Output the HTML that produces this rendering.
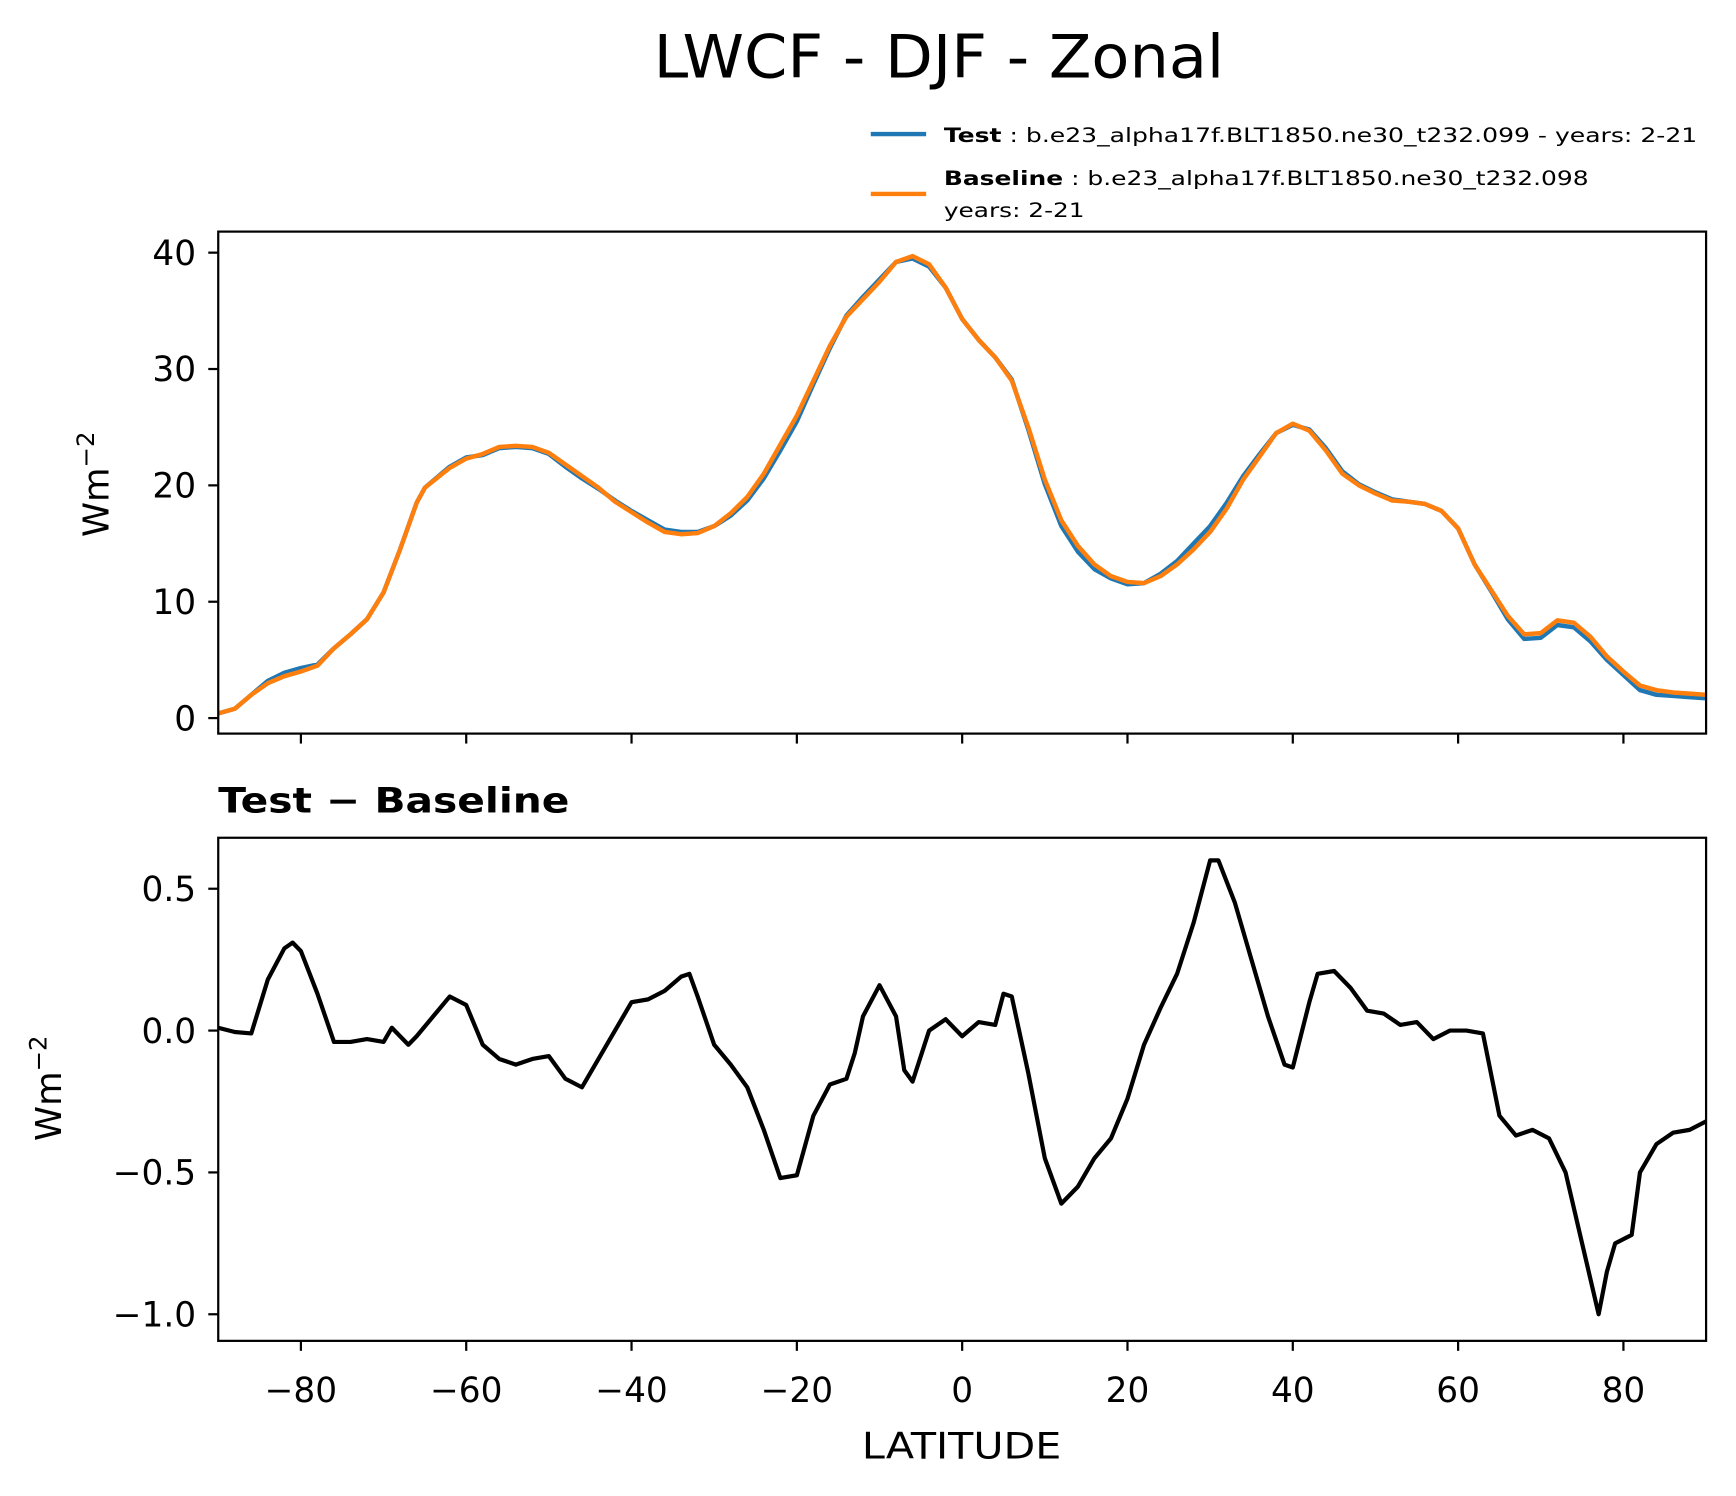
<!DOCTYPE html>
<html><head><meta charset="utf-8"><style>
html,body{margin:0;padding:0;background:#fff}
svg{display:block;font-family:"DejaVu Sans","Liberation Sans",sans-serif}
</style></head><body>
<svg id="chart" width="1736" height="1496" viewBox="0 0 1567 1350" preserveAspectRatio="none" xmlns="http://www.w3.org/2000/svg">
<rect width="1567" height="1350" fill="#fff"/>
<text x="590" y="70" font-size="54" textLength="515" lengthAdjust="spacingAndGlyphs">LWCF - DJF - Zonal</text>
<g>
<line x1="786" y1="121" x2="836" y2="121" stroke="#1f77b4" stroke-width="4"/>
<text x="852" y="128" font-size="18" textLength="680" lengthAdjust="spacingAndGlyphs"><tspan font-weight="bold">Test</tspan> : b.e23_alpha17f.BLT1850.ne30_t232.099 - years: 2-21</text>
<line x1="786" y1="175" x2="836" y2="175" stroke="#ff7f0e" stroke-width="4"/>
<text x="852" y="167" font-size="18" textLength="582" lengthAdjust="spacingAndGlyphs"><tspan font-weight="bold">Baseline</tspan> : b.e23_alpha17f.BLT1850.ne30_t232.098</text>
<text x="852" y="196" font-size="18" textLength="127" lengthAdjust="spacingAndGlyphs">years: 2-21</text>
</g>
<text transform="translate(98,437) rotate(-90)" font-size="32" text-anchor="middle">Wm<tspan dy="-13" font-size="22">−2</tspan></text>
<text transform="translate(55,982) rotate(-90)" font-size="32" text-anchor="middle">Wm<tspan dy="-13" font-size="22">−2</tspan></text>
<text x="197" y="733" font-size="31" font-weight="bold" textLength="317" lengthAdjust="spacingAndGlyphs">Test − Baseline</text>
<text x="778" y="1316" font-size="33" textLength="180" lengthAdjust="spacingAndGlyphs">LATITUDE</text>
<g id="plots"></g>
</svg>
<script>
const baseLat = [-90,-88,-86,-84,-82,-80,-78,-76,-74,-72,-70,-68,-66,-65,-62,-60,-58,-56,-54,-52,-50,-48,-46,-44,-42,-40,-38,-36,-34,-32,-30,-28,-26,-24,-22,-20,-18,-16,-14,-12,-10,-8,-6,-4,-2,0,2,4,6,8,10,12,14,16,18,20,22,24,26,28,30,32,34,36,38,40,42,44,46,48,50,52,54,56,58,60,62,64,66,68,70,72,74,76,78,80,82,84,86,88,90];
const baselineValues = [0.4,0.8,2.0,3.0,3.6,4.0,4.5,6.0,7.2,8.5,10.8,14.5,18.5,19.8,21.5,22.3,22.7,23.3,23.4,23.3,22.8,21.8,20.8,19.8,18.6,17.7,16.8,16.0,15.8,15.9,16.5,17.6,19.0,21.0,23.5,26.0,29.0,32.0,34.5,36.0,37.5,39.2,39.7,39.0,37.0,34.3,32.5,31.0,29.0,25.0,20.5,17.0,14.8,13.2,12.2,11.7,11.6,12.2,13.2,14.5,16.0,18.0,20.5,22.5,24.5,25.3,24.7,23.0,21.0,20.0,19.3,18.7,18.6,18.4,17.8,16.3,13.2,11.0,8.8,7.2,7.3,8.4,8.2,7.0,5.3,4.0,2.8,2.4,2.2,2.1,2.0];
const testValues = [0.4,0.8,2.0,3.2,3.9,4.3,4.6,6.0,7.2,8.5,10.8,14.5,18.5,19.8,21.6,22.4,22.6,23.2,23.3,23.2,22.7,21.6,20.6,19.7,18.7,17.8,17.0,16.2,16.0,16.0,16.5,17.4,18.7,20.6,23.0,25.5,28.7,31.8,34.6,36.2,37.7,39.2,39.5,38.8,37.0,34.3,32.5,31.0,29.1,24.8,20.1,16.5,14.3,12.8,12.0,11.5,11.6,12.4,13.5,15.0,16.5,18.5,20.8,22.7,24.5,25.2,24.8,23.2,21.2,20.1,19.4,18.8,18.6,18.4,17.8,16.3,13.2,10.9,8.5,6.8,6.9,8.0,7.8,6.6,5.0,3.7,2.4,2.0,1.9,1.8,1.7];
const diffLat = [-90,-88,-86,-84,-82,-81,-80,-78,-76,-74,-72,-70,-69,-67,-66,-64,-62,-60,-58,-56,-54,-52,-50,-48,-46,-44,-42,-40,-38,-36,-34,-33,-32,-30,-28,-26,-24,-22,-20,-18,-16,-14,-13,-12,-10,-8,-7,-6,-4,-2,0,2,4,5,6,8,10,12,14,16,18,20,22,24,26,28,30,31,33,35,37,39,40,42,43,45,47,49,51,53,55,57,59,61,63,65,67,69,71,73,75,77,78,79,81,82,84,86,88,90];
const diffValues = [0.01,-0.005,-0.01,0.18,0.29,0.31,0.28,0.13,-0.04,-0.04,-0.03,-0.04,0.01,-0.05,-0.02,0.05,0.12,0.09,-0.05,-0.10,-0.12,-0.10,-0.09,-0.17,-0.20,-0.10,0.0,0.10,0.11,0.14,0.19,0.20,0.12,-0.05,-0.12,-0.20,-0.35,-0.52,-0.51,-0.30,-0.19,-0.17,-0.08,0.05,0.16,0.05,-0.14,-0.18,0.0,0.04,-0.02,0.03,0.02,0.13,0.12,-0.15,-0.45,-0.61,-0.55,-0.45,-0.38,-0.24,-0.05,0.08,0.20,0.38,0.60,0.60,0.45,0.25,0.05,-0.12,-0.13,0.10,0.20,0.21,0.15,0.07,0.06,0.02,0.03,-0.03,0.0,0.0,-0.01,-0.30,-0.37,-0.35,-0.38,-0.50,-0.75,-1.00,-0.85,-0.75,-0.72,-0.50,-0.40,-0.36,-0.35,-0.32];
const xTicks = [-80,-60,-40,-20,0,20,40,60,80];
const topYTicks = [0,10,20,30,40];
const botYTicks = [0.5,0.0,-0.5,-1.0];
const botYLabels = ["0.5","0.0","−0.5","−1.0"];

const L=197,R=1540, T1=209,B1=662, T2=756,B2=1210;
const x = v => L + (v+90)/180*(R-L);
const y1 = v => 648 - v*10.5;
const y2 = v => 930 - v*256;
const NS="http://www.w3.org/2000/svg";
const g=document.getElementById('plots');
function mk(tag,attrs,parent){const e=document.createElementNS(NS,tag);for(const k in attrs)e.setAttribute(k,attrs[k]);(parent||g).appendChild(e);return e;}
function path(lat,vals,fy){return lat.map((a,i)=>(i?'L':'M')+x(a).toFixed(2)+','+fy(vals[i]).toFixed(2)).join('');}

const defs=mk('defs',{});
const c1=mk('clipPath',{id:'c1'},defs); mk('rect',{x:L,y:T1,width:R-L,height:B1-T1},c1);
const c2=mk('clipPath',{id:'c2'},defs); mk('rect',{x:L,y:T2,width:R-L,height:B2-T2},c2);

const tl=mk('path',{d:path(baseLat,testValues,y1),fill:'none',stroke:'#1f77b4','stroke-width':4,'clip-path':'url(#c1)','stroke-linejoin':'round'});


const bl=mk('path',{d:path(baseLat,baselineValues,y1),fill:'none',stroke:'#ff7f0e','stroke-width':4,'clip-path':'url(#c1)','stroke-linejoin':'round'});


const dl=mk('path',{d:path(diffLat,diffValues,y2),fill:'none',stroke:'#000','stroke-width':3.8,'clip-path':'url(#c2)','stroke-linejoin':'round'});



const f1=mk('rect',{x:L,y:T1,width:R-L,height:B1-T1,fill:'none',stroke:'#000','stroke-width':2});


const f2=mk('rect',{x:L,y:T2,width:R-L,height:B2-T2,fill:'none',stroke:'#000','stroke-width':2});



xTicks.forEach(v=>{
  const t1=mk('line',{x1:x(v),x2:x(v),y1:B1,y2:B1+9,stroke:'#000','stroke-width':2});
  
  
  const t2=mk('line',{x1:x(v),x2:x(v),y1:B2,y2:B2+9,stroke:'#000','stroke-width':2});
  
  
  const lb=mk('text',{x:x(v),y:B2+55,'font-size':31,'text-anchor':'middle'});
  lb.textContent=(v<0?'−':'')+Math.abs(v);
  
  
});
topYTicks.forEach(v=>{
  const t=mk('line',{x1:L-9,x2:L,y1:y1(v),y2:y1(v),stroke:'#000','stroke-width':2});
  
  
  const lb=mk('text',{x:L-20,y:y1(v)+11,'font-size':31,'text-anchor':'end'});
  lb.textContent=String(v);
  
  
});
botYTicks.forEach((v,i)=>{
  const t=mk('line',{x1:L-9,x2:L,y1:y2(v),y2:y2(v),stroke:'#000','stroke-width':2});
  
  
  const lb=mk('text',{x:L-20,y:y2(v)+11,'font-size':31,'text-anchor':'end'});
  lb.textContent=botYLabels[i];
  
  
});
</script>
</body></html>
